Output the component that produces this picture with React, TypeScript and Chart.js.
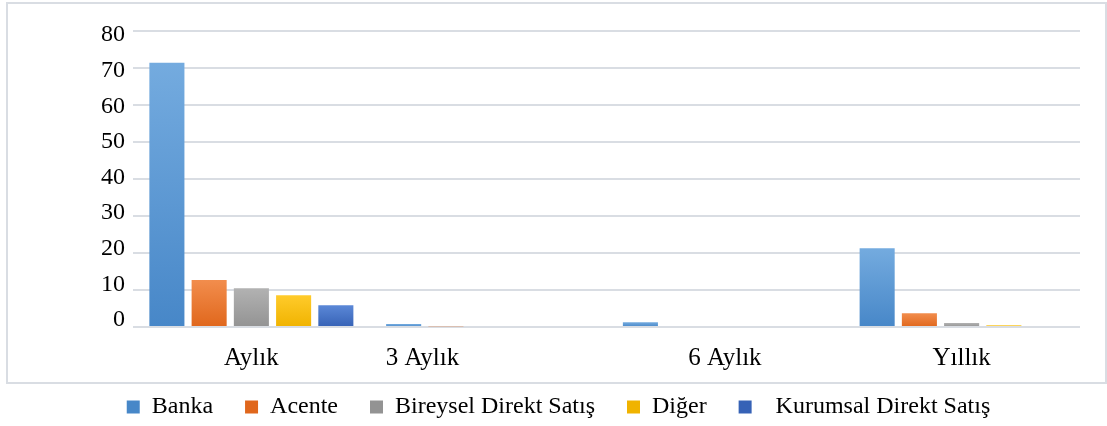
import React, { useEffect, useRef } from "react";
import { Chart, registerables } from "chart.js";

Chart.register(...registerables);

const categories = ["Aylık", "3 Aylık".padEnd(28, " "), "6 Aylık", "Yıllık"];
const seriesNames = ["Banka", "Acente", "Bireysel Direkt Satış", "Diğer", "  Kurumsal Direkt Satış"];
const banka = [71.4, 0.8, 1.3, 21.3];
const acente = [12.7, 0.2, 0, 3.7];
const bireysel = [10.5, 0, 0, 1.1];
const diger = [8.6, 0, 0, 0.5];
const kurumsal = [5.9, 0, 0, 0];
const yTicks = [0, 10, 20, 30, 40, 50, 60, 70, 80];

const palette: [string, string][] = [
  ["#74abdf", "#4787c8"],
  ["#f28d4d", "#e0671c"],
  ["#b2b2b2", "#939393"],
  ["#ffcb2b", "#f0b300"],
  ["#5b88d7", "#3662b6"],
];

const FONT = "'Liberation Serif', 'Times New Roman', serif";
const FS = 24;

function gradientFor(colors: [string, string]) {
  return (ctx: any) => {
    const chart = ctx.chart;
    const area = chart.chartArea;
    if (!area || ctx.type !== "data") return colors[1];
    const yScale = chart.scales.y;
    const top = yScale.getPixelForValue(ctx.raw as number);
    const bottom = yScale.getPixelForValue(0);
    if (!isFinite(top) || !isFinite(bottom) || bottom - top < 1) return colors[1];
    const g = chart.ctx.createLinearGradient(0, top, 0, bottom);
    g.addColorStop(0, colors[0]);
    g.addColorStop(1, colors[1]);
    return g;
  };
}

const framePlugin = {
  id: "frame",
  afterLayout(chart: any) {
    const lg = chart.legend;
    if (!lg) return;
    const dy = -11;
    const dx = -28;
    lg.top += dy;
    lg.left += dx;
    lg.right += dx;
  },
  beforeDraw(chart: any) {
    const { ctx, chartArea } = chart;
    ctx.save();
    ctx.fillStyle = "#ffffff";
    ctx.fillRect(0, 0, chart.width, chart.height);
    ctx.strokeStyle = "#d9dde3";
    ctx.lineWidth = 2;
    const bottom = chartArea.bottom + 56;
    ctx.strokeRect(7, 3, chart.width - 8, bottom - 3);
    ctx.restore();
  },
};

export default function App() {
  const ref = useRef<HTMLCanvasElement>(null);
  useEffect(() => {
    if (!ref.current) return;
    const dataSets = [banka, acente, bireysel, diger, kurumsal];
    const chart = new Chart(ref.current, {
      type: "bar",
      data: {
        labels: categories,
        datasets: dataSets.map((d, i) => ({
          label: seriesNames[i],
          data: d,
          backgroundColor: gradientFor(palette[i]),
          borderWidth: 0,
          categoryPercentage: 0.892,
          barPercentage: 0.83,
        })),
      },
      options: {
        animation: false,
        responsive: false,
        maintainAspectRatio: false,
        layout: { padding: { left: 93, right: 27, top: 31, bottom: 0 } },
        plugins: {
          legend: {
            position: "bottom",
            maxHeight: 52,
            labels: {
              boxWidth: 13,
              boxHeight: 13,
              padding: 32,
              color: "#000",
              font: { family: FONT, size: FS },
              generateLabels: (ch: any) =>
                ch.data.datasets.map((ds: any, i: number) => ({
                  text: ds.label,
                  fillStyle: palette[i][1],
                  strokeStyle: palette[i][1],
                  lineWidth: 0,
                  datasetIndex: i,
                  hidden: false,
                })),
            },
          },
          tooltip: { enabled: false },
        },
        scales: {
          x: {
            grid: { display: false },
            border: { display: false },
            afterFit: (axis: any) => {
              axis.height = 47;
            },
            ticks: {
              color: "#000",
              font: { family: FONT, size: 25 },
              padding: 8,
              maxRotation: 0,
              autoSkip: false,
            },
          },
          y: {
            min: 0,
            max: 80,
            afterBuildTicks: (axis: any) => {
              axis.ticks = yTicks.map((v) => ({ value: v }));
            },
            grid: { color: "#d9dde3", lineWidth: 2, drawTicks: false },
            border: { display: false },
            ticks: { display: false },
          },
          yLabels: {
            type: "linear",
            position: "left",
            min: -1.96,
            max: 81.12,
            afterBuildTicks: (axis: any) => {
              axis.ticks = yTicks.map((v) => ({ value: v }));
            },
            grid: { display: false, drawTicks: false },
            border: { display: false },
            ticks: {
              color: "#000",
              font: { family: FONT, size: FS },
              padding: 8,
            },
          },
        },
      },
      plugins: [framePlugin],
    });
    return () => chart.destroy();
  }, []);
  return (
    <div style={{ position: "fixed", left: 0, top: 0, width: 1107, height: 426, background: "#fff" }}>
      <canvas ref={ref} width={1107} height={426} style={{ width: 1107, height: 426 }} />
    </div>
  );
}
